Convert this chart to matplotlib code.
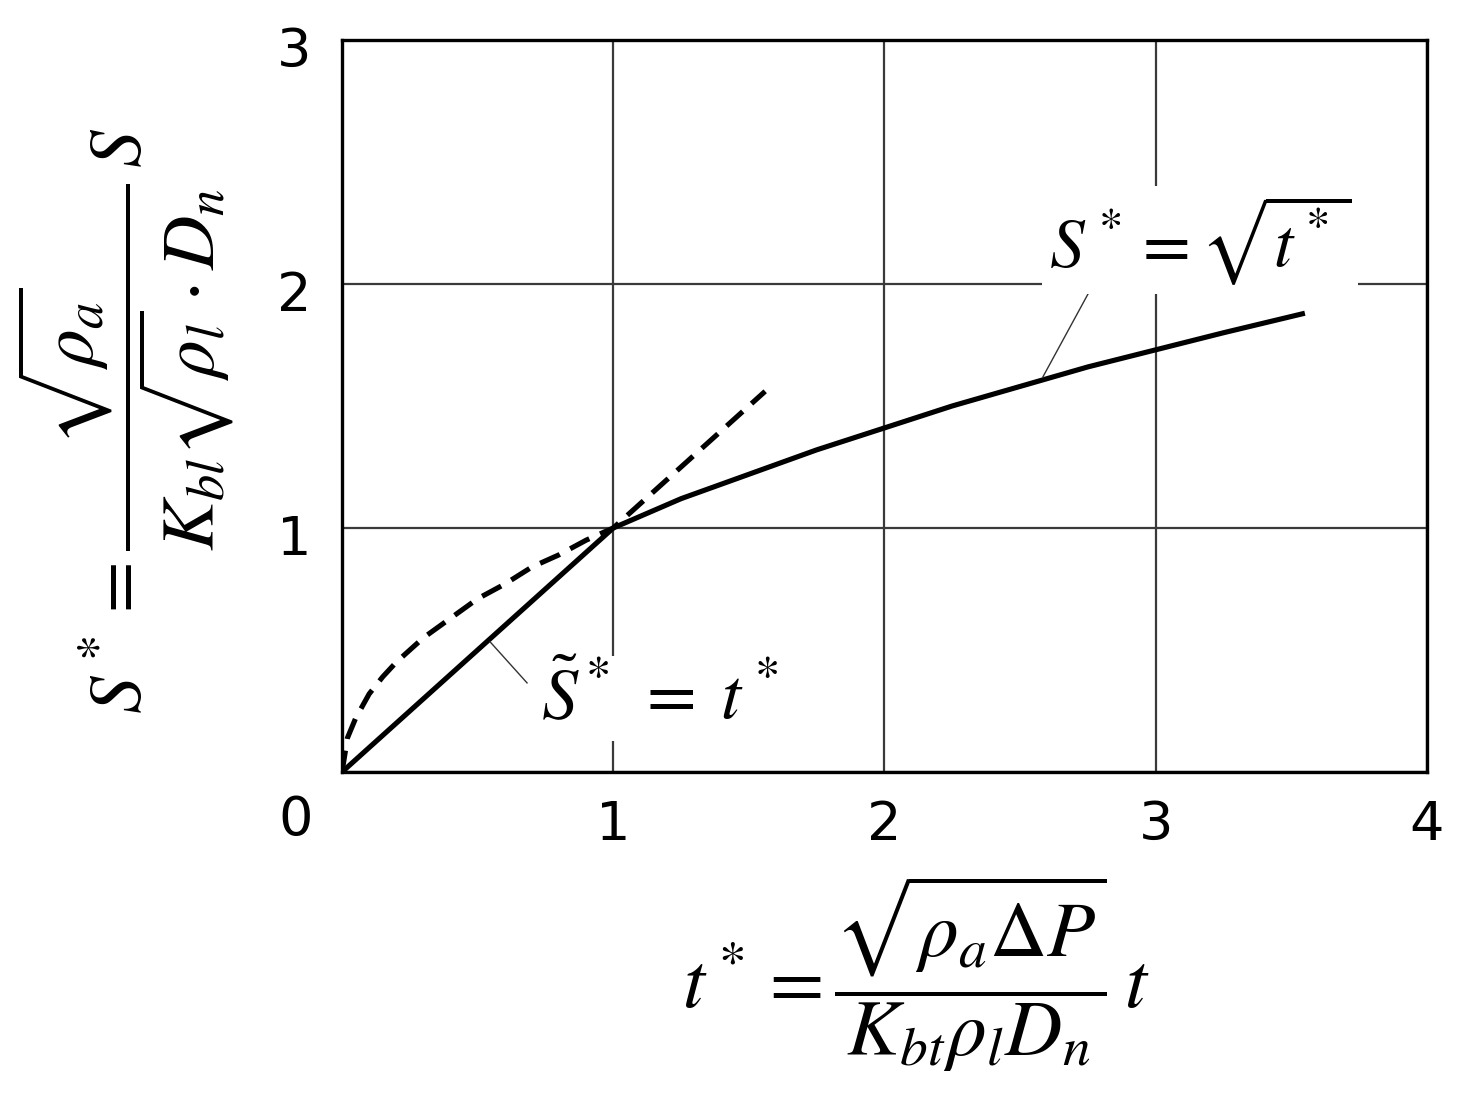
import matplotlib
matplotlib.use("Agg")
import matplotlib.pyplot as plt

plt.rcParams["mathtext.fontset"] = "stix"
plt.rcParams["font.family"] = ["DejaVu Sans"]

# =====================================================
# Data
# =====================================================

# solid line: S~* = t* up to 1, then S* = sqrt(t*)
t_solid = [0, 1.0, 1.25, 1.5, 1.75, 2.0, 2.25, 2.5, 2.75, 3.0, 3.25, 3.55]
s_solid = [0, 1.0, 1.12, 1.22, 1.32, 1.41, 1.50, 1.58, 1.66, 1.73, 1.80, 1.88]

# dashed line: sqrt(t*) up to 1, then t* continued
t_dash = [0, 0.02, 0.05, 0.1, 0.15, 0.2, 0.3, 0.4, 0.5, 0.6, 0.7, 0.8, 0.9, 1.0, 1.56]
s_dash = [0, 0.14, 0.22, 0.32, 0.39, 0.45, 0.55, 0.63, 0.71, 0.77, 0.84, 0.89, 0.95, 1.0, 1.56]

x_ticks = [1, 2, 3, 4]
y_ticks = [1, 2, 3]


fig = plt.figure(figsize=(14.7, 10.97), dpi=100)
ax = fig.add_axes([0.2327, 0.2963, 0.738, 0.6673])

ax.set_xlim(0, 4)
ax.set_ylim(0, 3)

ax.set_xticks([0] + x_ticks)
ax.set_yticks([0] + y_ticks)
ax.set_xticklabels([])
ax.set_yticklabels([])
ax.tick_params(length=0)

ax.grid(True, color="#3a3a3a", linewidth=1.6)
ax.set_axisbelow(True)

for sp in ax.spines.values():
    sp.set_linewidth(2.4)
    sp.set_color("black")

ax.plot(t_solid, s_solid, color="black", linewidth=3.7, solid_capstyle="butt", zorder=3)
ax.plot(t_dash, s_dash, color="black", linewidth=3.7, linestyle=(0, (4.2, 2.3)), zorder=3)

# tick labels, placed a bit off the grid lines like the original
for x in x_ticks:
    ax.text(x, -0.217, str(x), fontsize=39, ha="center", va="center", clip_on=False)
for y in y_ticks:
    ax.text(-0.175, y - 0.05, str(y), fontsize=39, ha="center", va="center", clip_on=False)
ax.text(-0.173, -0.197, "0", fontsize=39, ha="center", va="center", clip_on=False)

# annotations with leader lines
ax.plot([2.795, 2.584], [2.05, 1.619], color="#333333", linewidth=1.0, zorder=4)
ax.text(3.165, 2.18, r"$S^* = \sqrt{t^*}$", fontsize=50, ha="center", va="center", zorder=5,
        bbox=dict(facecolor="white", edgecolor="none", pad=5))

ax.plot([0.682, 0.546], [0.365, 0.533], color="#333333", linewidth=1.0, zorder=4)
ax.text(1.17, 0.30, r"$\tilde{S}^* \;=\; t^*$", fontsize=52, ha="center", va="center", zorder=5,
        bbox=dict(facecolor="white", edgecolor="none", pad=5))

# axis labels
fig.text(0.623, 0.112, r"$t^* = \dfrac{\sqrt{\rho_a \Delta P}}{K_{bt}\rho_l D_n}\, t$",
         fontsize=57, ha="center", va="center")
fig.text(0.085, 0.617, r"$S^* = \dfrac{\sqrt{\rho_a}}{K_{bl}\sqrt{\rho_l}\cdot D_n}\, S$",
         fontsize=54, ha="center", va="center", rotation=90)

fig.savefig("out.png", dpi=100, facecolor="white")
plt.close(fig)
